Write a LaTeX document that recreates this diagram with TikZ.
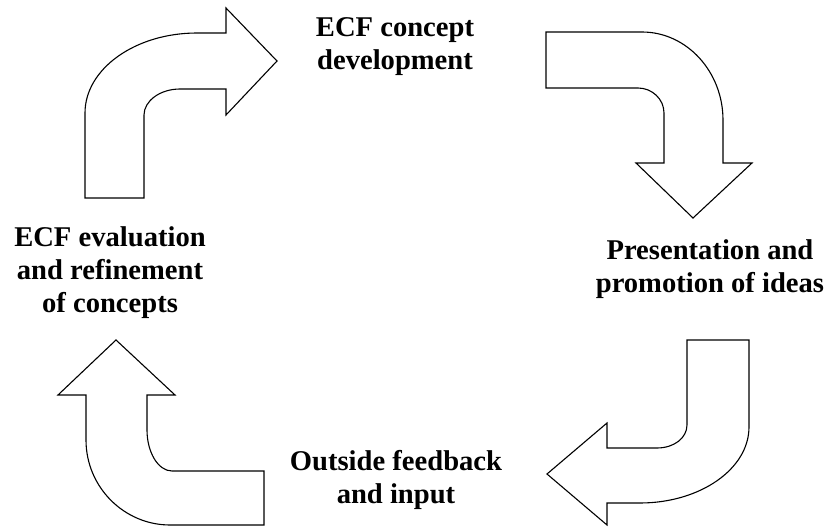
\documentclass[tikz,border=0pt]{standalone}
\usepackage{fontspec}
\setmainfont{Liberation Serif}
\begin{document}
\begin{tikzpicture}[x=1pt,y=-1pt,
  bent/.style={draw=black,line width=1.1pt,fill=white},
  lbl/.style={font=\fontsize{28.6}{33}\selectfont\bfseries,align=center,anchor=base,inner sep=0pt}]
\useasboundingbox (0,0) rectangle (831,527);

% arrow 1: up then right
\draw[bent] (85,198) -- (85,113) .. controls (85,69) and (135,33) .. (197,33)
  -- (226,33) -- (226,8) -- (277,61) -- (226,115) -- (226,89) -- (180,89)
  .. controls (160,89) and (144,101) .. (144,115) -- (144,198) -- cycle;

% arrow 2: right then down
\draw[bent] (546,32) -- (642,32) .. controls (687,32) and (723,72) .. (723,120)
  -- (723,163) -- (752,163) -- (693,218) -- (636,163) -- (664,163) -- (664,113)
  .. controls (664,99) and (652,88) .. (638,88) -- (546,88) -- cycle;

% arrow 3: down then left
\draw[bent] (687,340) -- (749,340) -- (749,427) .. controls (749,469) and (700,503) .. (640,503)
  -- (607,503) -- (607,525) -- (547,474) -- (607,423) -- (607,448) -- (657,448)
  .. controls (674,448) and (687,438) .. (687,425) -- cycle;

% arrow 4: left then up
\draw[bent] (264,471) -- (264,525) -- (170,525) .. controls (124,525) and (86,487) .. (86,440)
  -- (86,395) -- (58,395) -- (116,340) -- (175,395) -- (147,395) -- (147,430)
  .. controls (147,452) and (158,471) .. (172,471) -- cycle;

% labels (base = last line)
\node[lbl] (develop) at (395,70) {ECF concept\\development};
\node[lbl] (promote) at (710,292) {Presentation and\\promotion of ideas};
\node[lbl] (feedback) at (396,503) {Outside feedback\\and input};
\node[lbl] (refine) at (110,312) {ECF evaluation\\and refinement\\of concepts};
\end{tikzpicture}
\end{document}
